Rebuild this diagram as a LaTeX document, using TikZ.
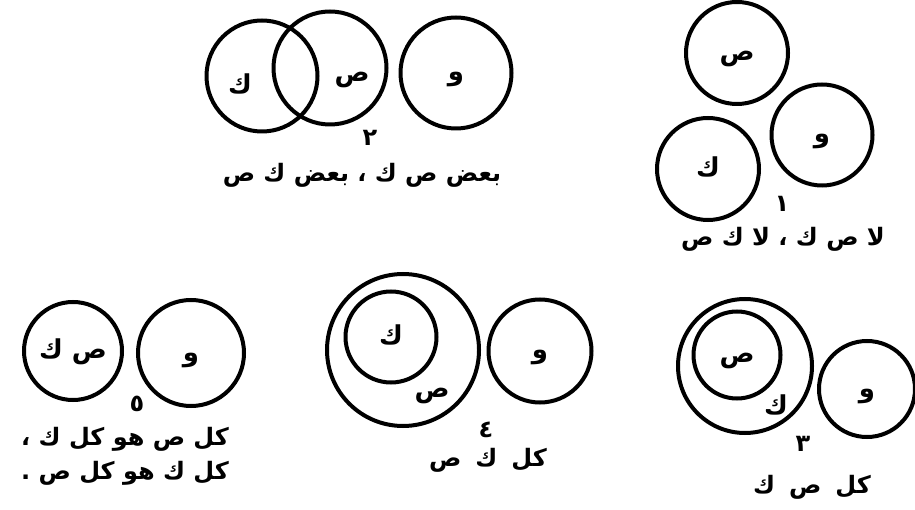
\documentclass[tikz,border=0pt]{standalone}
\usepackage{fontspec}
\newfontfamily\arabicfont[Script=Arabic]{DejaVu Sans}
\TeXXeTstate=1
\newcommand{\wgap}{\hspace{14pt}}
\newcommand{\cltxt}[1]{\raisebox{-8pt}[0pt][0pt]{\beginR #1\endR}}
\begin{document}
\begin{tikzpicture}[x=1pt,y=-1pt,
  circ/.style={draw=black,line width=4pt,circle,inner sep=0pt,minimum size=#1,font=\arabicfont\bfseries\fontsize{26}{28}\selectfont},
  lbl/.style={font=\arabicfont\bfseries\fontsize{26}{28}\selectfont,inner sep=0pt},
  numtxt/.style={font=\arabicfont\bfseries\fontsize{24}{26}\selectfont,inner sep=0pt},
  captxt/.style={font=\arabicfont\bfseries\fontsize{24}{34}\selectfont,inner sep=0pt,align=center}]
\useasboundingbox (0,0) rectangle (915,510);
\fill[white] (0,0) rectangle (915,510);
% diagram 1
\node[circ=102pt] (d1s) at (737,53) {\cltxt{ص}};
\node[circ=101pt] (d1w) at (822,135) {\cltxt{و}};
\node[circ=102pt] (d1k) at (708,169) {\cltxt{ك}};
\node[numtxt] (n1) at (782,204) {\beginR ١\endR};
\node[captxt] (t1) at (783,239) {\beginR لا ص ك ، لا ك ص\endR};
% diagram 2
\node[circ=111pt] (d2k) at (262,76) {};
\node[lbl] (l2k) at (240,84) {\beginR ك\endR};
\node[circ=113pt] (d2s) at (330,68) {};
\node[lbl] (l2s) at (352,80) {\beginR ص\endR};
\node[circ=111pt] (d2w) at (456,73) {\cltxt{و}};
\node[numtxt] (n2) at (370,138) {\beginR ٢\endR};
\node[captxt] (t2) at (362,175) {\beginR بعض ص ك ، بعض ك ص\endR};
% diagram 3
\node[circ=134pt] (d3o) at (745,366) {};
\node[circ=87pt] (d3s) at (737,355) {\cltxt{ص}};
\node[lbl] (l3k) at (776,405) {\beginR ك\endR};
\node[circ=96pt] (d3w) at (867,389) {\cltxt{و}};
\node[numtxt] (n3) at (803,444) {\beginR ٣\endR};
\node[captxt] (t3) at (812,487) {\beginR كل\wgap ص\wgap ك\endR};
% diagram 4
\node[circ=152pt] (d4o) at (403,350) {};
\node[circ=91pt] (d4k) at (391,337) {\cltxt{ك}};
\node[lbl] (l4s) at (432,396) {\beginR ص\endR};
\node[circ=103pt] (d4w) at (540,351) {\cltxt{و}};
\node[numtxt] (n4) at (486,430) {\beginR ٤\endR};
\node[captxt] (t4) at (488,460) {\beginR كل\wgap ك\wgap ص\endR};
% diagram 5
\node[circ=98pt] (d5s) at (73,351) {\cltxt{ص ك}};
\node[circ=106pt] (d5w) at (191,353) {\cltxt{و}};
\node[numtxt] (n5) at (137,404) {\beginR ٥\endR};
\node[captxt] (t5) at (125,456) {\beginR كل ص هو كل ك ،\endR\\\beginR كل ك هو كل ص .\endR};
\end{tikzpicture}
\end{document}
